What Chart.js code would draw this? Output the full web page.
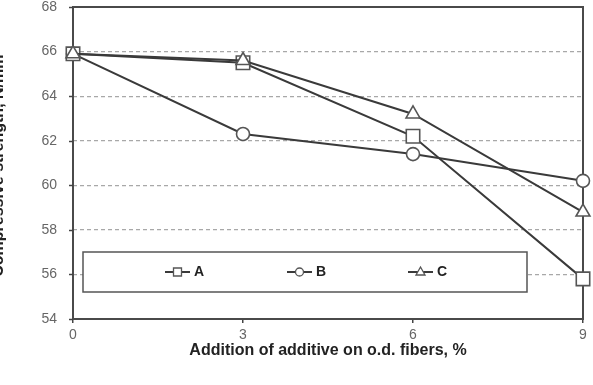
<!DOCTYPE html>
<html><head><meta charset="utf-8">
<script src="https://cdn.jsdelivr.net/npm/chart.js@4.4.1/dist/chart.umd.min.js"></script>
<style>
html,body{margin:0;padding:0;background:#fff;overflow:hidden;}
#wrap{position:absolute;left:-20px;top:0;width:613px;height:385px;}
</style></head>
<body><div id="wrap"><canvas id="c" width="613" height="385"></canvas></div>
<script>
const additive = [0, 3, 6, 9];
const seriesA = [65.9, 65.5, 62.2, 55.8];
const seriesB = [65.9, 62.3, 61.4, 60.2];
const seriesC = [65.9, 65.6, 63.2, 58.8];
const seriesNames = ['A', 'B', 'C'];
const yTicks = [54, 56, 58, 60, 62, 64, 66, 68];
const xTicks = [0, 3, 6, 9];

const NARROW = '"Liberation Sans Narrow", "Arial Narrow", "Liberation Sans", Arial, sans-serif';
const SANS = '"Liberation Sans", Arial, sans-serif';

const pts = (vals) => additive.map((x, i) => ({x: x, y: vals[i]}));
const lineCol = '#3a3a3a', markCol = '#555';
function ds(label, vals, style, r, order) {
  return {label, data: pts(vals), borderColor: lineCol, borderWidth: 2,
    pointStyle: style, pointRadius: r, pointHoverRadius: r,
    pointBackgroundColor: '#fff', pointBorderColor: markCol, pointBorderWidth: 1.6,
    fill: false, tension: 0, clip: false, order: order};
}

const frame = {
  id: 'frame',
  beforeDatasetsDraw(chart) {
    const a = chart.chartArea, ctx = chart.ctx;
    ctx.save();
    ctx.strokeStyle = '#4a4a4a'; ctx.lineWidth = 2;
    ctx.strokeRect(a.left, a.top, a.right - a.left, a.bottom - a.top);
    const ys = chart.scales.y;
    ctx.strokeStyle = '#444'; ctx.lineWidth = 1.5;
    ys.ticks.forEach(t => {
      const py = Math.round(ys.getPixelForValue(t.value)) + 0.5;
      ctx.beginPath(); ctx.moveTo(a.left - 4, py); ctx.lineTo(a.left, py); ctx.stroke();
    });
    ctx.restore();
  },
  afterDraw(chart) {
    const ctx = chart.ctx;
    const bx = 103, by = 252, bw = 444, bh = 40;
    ctx.save();
    ctx.fillStyle = '#fff';
    ctx.fillRect(bx, by, bw, bh);
    ctx.strokeStyle = '#555'; ctx.lineWidth = 1.5;
    ctx.strokeRect(bx, by, bw, bh);
    const cy = by + bh / 2;
    const starts = [185, 307, 428];
    chart.data.datasets.forEach((d, i) => {
      const x0 = starts[i];
      ctx.strokeStyle = lineCol; ctx.lineWidth = 2;
      ctx.beginPath(); ctx.moveTo(x0, cy); ctx.lineTo(x0 + 25, cy); ctx.stroke();
      ctx.fillStyle = '#fff'; ctx.strokeStyle = markCol; ctx.lineWidth = 1.3;
      const mx = x0 + 12.5;
      ctx.beginPath();
      if (d.pointStyle === 'rect') ctx.rect(mx - 4, cy - 4, 8, 8);
      else if (d.pointStyle === 'circle') ctx.arc(mx, cy, 4, 0, Math.PI * 2);
      else { ctx.moveTo(mx, cy - 5); ctx.lineTo(mx + 4.5, cy + 3); ctx.lineTo(mx - 4.5, cy + 3); ctx.closePath(); }
      ctx.fill(); ctx.stroke();
      ctx.fillStyle = '#222'; ctx.font = 'bold 14px ' + NARROW;
      ctx.textBaseline = 'middle';
      ctx.fillText(d.label, x0 + 29, cy + 0.5);
    });
    ctx.restore();
  }
};

new Chart(document.getElementById('c'), {
  type: 'line',
  data: {datasets: [
    ds(seriesNames[0], seriesA, 'rect', 9.5, 1),
    ds(seriesNames[1], seriesB, 'circle', 6.5, 2),
    ds(seriesNames[2], seriesC, 'triangle', 8, 0)
  ]},
  options: {
    responsive: false, animation: false, events: [],
    layout: {autoPadding: false, padding: {left: 9, right: 10, top: 7, bottom: 25}},
    plugins: {legend: {display: false}, tooltip: {enabled: false}},
    scales: {
      x: {
        type: 'linear', min: 0, max: 9,
        afterBuildTicks: (s) => { s.ticks = xTicks.map(v => ({value: v})); },
        afterFit: (s) => { s.height = 41; },
        grid: {drawOnChartArea: false, drawTicks: true, tickLength: 4, tickColor: '#444', lineWidth: 1.5},
        border: {display: false},
        ticks: {color: '#666', padding: 5, font: {family: NARROW, size: 14, lineHeight: 1}},
        title: {display: true, text: 'Addition of additive on o.d. fibers, %', color: '#222',
          font: {family: SANS, size: 16, weight: 'bold'}, padding: {top: 0, bottom: 0}}
      },
      y: {
        type: 'linear', min: 54, max: 68,
        afterBuildTicks: (s) => { s.ticks = yTicks.map(v => ({value: v})); },
        afterFit: (s) => { s.width = 84; },
        grid: {
          color: (c) => (c.tick && (c.tick.value === 54 || c.tick.value === 68)) ? 'rgba(0,0,0,0)' : '#a8a8a8',
          tickColor: 'rgba(0,0,0,0)', drawTicks: true, tickLength: 16, lineWidth: 1.2
        },
        border: {display: false, dash: [4, 3]},
        ticks: {color: '#666', padding: 0, font: {family: NARROW, size: 14, lineHeight: 1}},
        title: {display: true, text: 'Compressive strength, N/mm²', color: '#222',
          font: {family: SANS, size: 16, weight: 'bold'}, padding: {top: 0, bottom: 0}}
      }
    }
  },
  plugins: [frame]
});
</script></body></html>
